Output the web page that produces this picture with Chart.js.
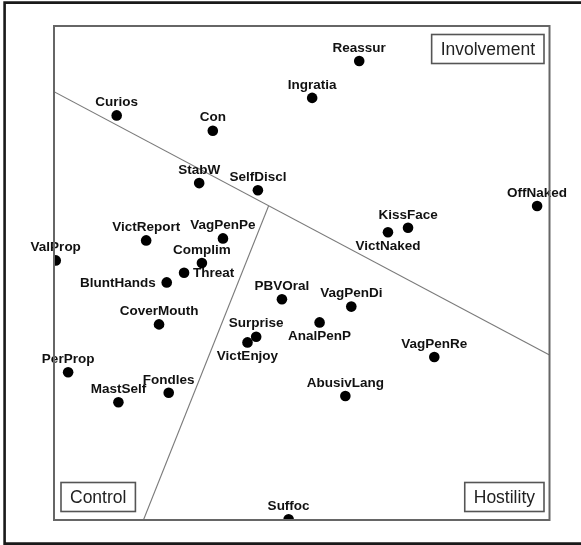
<!DOCTYPE html>
<html>
<head>
<meta charset="utf-8">
<script src="https://cdn.jsdelivr.net/npm/chart.js@4"></script>
<style>
  html, body { margin: 0; padding: 0; background: #fff; }
  #wrap { position: relative; width: 581px; height: 545px; }
</style>
</head>
<body>
<div id="wrap"><canvas id="c" width="581" height="545"></canvas></div>
<script>
// ---- Data (arbitrary dimension units -1..1) ----
const names = ["Reassur","Ingratia","Curios","Con","StabW","SelfDiscl","OffNaked","KissFace","VictNaked",
  "VagPenDi","AnalPenP","VagPenRe","PBVOral","VictReport","VagPenPe","ValProp","Complim","Threat",
  "BluntHands","CoverMouth","Surprise","VictEnjoy","PerProp","MastSelf","Fondles","AbusivLang","Suffoc"];
const dim1 = [0.232,0.042,-0.747,-0.359,-0.414,-0.177,0.950,0.429,0.348,
  0.200,0.072,0.535,-0.080,-0.628,-0.318,-0.993,-0.403,-0.475,
  -0.545,-0.576,-0.184,-0.219,-0.943,-0.740,-0.537,0.176,-0.053];
const dim2 = [0.858,0.709,0.638,0.576,0.364,0.335,0.271,0.183,0.165,
  -0.136,-0.200,-0.340,-0.106,0.132,0.140,0.051,0.040,0.001,
  -0.038,-0.208,-0.258,-0.281,-0.402,-0.523,-0.485,-0.498,-0.997];
// Region boundary lines (endpoints in data units)
const boundary1X = [-1, 1];
const boundary1Y = [0.734, -0.332];
const boundary2X = [-0.639, -0.134];
const boundary2Y = [-1, 0.271];
const regionNames = ["Involvement", "Control", "Hostility"];

// label side overrides (default: above)
const labelSide = { VictNaked: 'below', AnalPenP: 'below', VictEnjoy: 'below', Threat: 'right', BluntHands: 'left' };

const points = names.map((n, i) => ({ x: dim1[i], y: dim2[i], name: n }));

const decor = {
  id: 'decor',
  afterDatasetsDraw(chart) {
    const ctx = chart.ctx;
    const a = chart.chartArea;
    const meta = chart.getDatasetMeta(2);
    ctx.save();
    // point labels
    ctx.font = 'bold 13.5px "Liberation Sans", Arial, sans-serif';
    ctx.fillStyle = '#111';
    meta.data.forEach((el, i) => {
      const n = names[i];
      const side = labelSide[n] || 'above';
      let x = el.x, y = el.y;
      ctx.textBaseline = 'middle';
      if (side === 'above') { ctx.textAlign = 'center'; y -= 13.5; }
      else if (side === 'below') { ctx.textAlign = 'center'; y += 13.5; }
      else if (side === 'right') { ctx.textAlign = 'left'; x += 9; }
      else { ctx.textAlign = 'right'; x -= 11; }
      ctx.fillText(n, x, y + 0.5);
    });
    // region boxes
    ctx.font = '17.5px "Liberation Sans", Arial, sans-serif';
    ctx.textAlign = 'center';
    ctx.textBaseline = 'middle';
    const boxH = 29, pad = 9;
    const drawBox = (text, left, right, top) => {
      const w = ctx.measureText(text).width + pad * 2;
      const x0 = left !== null ? left : right - w;
      ctx.fillStyle = '#fff';
      ctx.fillRect(x0, top, w, boxH);
      ctx.strokeStyle = '#555';
      ctx.lineWidth = 1.6;
      ctx.strokeRect(x0, top, w, boxH);
      ctx.fillStyle = '#222';
      ctx.fillText(text, x0 + w / 2, top + boxH / 2 + 1);
    };
    drawBox(regionNames[0], null, a.right - 5.5, a.top + 8.5);
    drawBox(regionNames[1], a.left + 7, null, a.bottom - 37.5);
    drawBox(regionNames[2], null, a.right - 5.5, a.bottom - 37.5);
    // plot frame
    ctx.strokeStyle = '#666';
    ctx.lineWidth = 2;
    ctx.strokeRect(a.left, a.top, a.right - a.left, a.bottom - a.top);
    // outer frame (left, top, bottom; right edge out of view)
    ctx.strokeStyle = '#1a1a1a';
    ctx.lineWidth = 2.6;
    ctx.beginPath();
    ctx.moveTo(600, 2.6);
    ctx.lineTo(4.6, 2.6);
    ctx.lineTo(4.6, 543.6);
    ctx.lineTo(600, 543.6);
    ctx.stroke();
    ctx.restore();
  }
};

new Chart(document.getElementById('c'), {
  type: 'scatter',
  data: {
    datasets: [
      { data: boundary1X.map((x, i) => ({ x, y: boundary1Y[i] })), showLine: true, borderColor: '#7a7a7a', borderWidth: 1.1, pointRadius: 0, clip: 0 },
      { data: boundary2X.map((x, i) => ({ x, y: boundary2Y[i] })), showLine: true, borderColor: '#7a7a7a', borderWidth: 1.1, pointRadius: 0, clip: 0 },
      { data: points, pointRadius: 5.3, pointBackgroundColor: '#000', pointBorderWidth: 0, clip: 0 }
    ]
  },
  options: {
    responsive: false,
    animation: false,
    events: [],
    layout: { padding: { left: 54, top: 26, right: 31.5, bottom: 25 } },
    scales: {
      x: { type: 'linear', min: -1, max: 1, display: false },
      y: { type: 'linear', min: -1, max: 1, display: false }
    },
    plugins: { legend: { display: false }, tooltip: { enabled: false } }
  },
  plugins: [decor]
});
</script>
</body>
</html>
